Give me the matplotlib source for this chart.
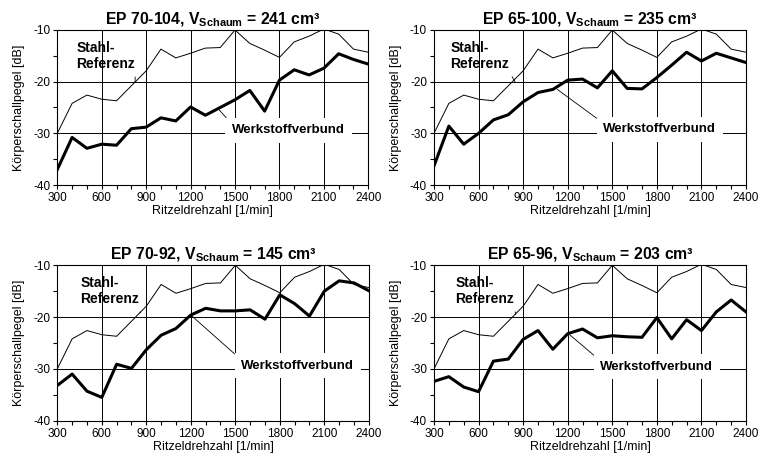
import matplotlib
matplotlib.use('Agg')
import matplotlib.pyplot as plt
from matplotlib.ticker import MultipleLocator

plt.rcParams['font.family'] = ['Liberation Sans', 'DejaVu Sans']
plt.rcParams['mathtext.fontset'] = 'custom'
plt.rcParams['mathtext.rm'] = 'Liberation Sans'
plt.rcParams['mathtext.bf'] = 'Liberation Sans:bold'
plt.rcParams['mathtext.it'] = 'Liberation Sans:italic'
plt.rcParams['axes.unicode_minus'] = False

# Drehzahl [1/min]
drehzahl = list(range(300, 2401, 100))

# Stahl-Referenz (gleich in allen Diagrammen)
stahl = [-30.0, -24.2, -22.6, -23.4, -23.7, -20.8, -17.9, -13.7, -15.4, -14.5, -13.5,
         -13.4, -10.0, -12.6, -13.9, -15.3, -12.3, -11.2, -9.8, -10.8, -13.7, -14.3]

# Werkstoffverbund je Variante
wv_70_104 = [-37.0, -30.8, -32.9, -32.1, -32.3, -29.1, -28.8, -27.0, -27.6, -24.9, -26.5,
             -25.0, -23.5, -21.7, -25.7, -19.7, -17.7, -18.7, -17.4, -14.6, -15.7, -16.6]
wv_65_100 = [-36.3, -28.6, -32.1, -30.0, -27.4, -26.4, -23.9, -22.1, -21.5, -19.7, -19.5,
             -21.2, -17.9, -21.3, -21.4, -19.2, -16.8, -14.3, -16.0, -14.5, -15.4, -16.3]
wv_70_92 = [-33.2, -31.0, -34.3, -35.5, -29.1, -29.9, -26.3, -23.5, -22.2, -19.6, -18.3,
            -18.8, -18.8, -18.6, -20.4, -15.7, -17.4, -19.8, -15.0, -13.0, -13.4, -14.9]
wv_65_96 = [-32.4, -31.5, -33.5, -34.4, -28.5, -28.1, -24.3, -22.6, -26.2, -23.2, -22.3,
            -24.0, -23.6, -23.8, -23.9, -20.1, -24.2, -20.5, -22.6, -19.0, -16.7, -19.0]

titel = ['EP 70-104, V$_{\\mathbf{Schaum}}$ = 241 cm³',
         'EP 65-100, V$_{\\mathbf{Schaum}}$ = 235 cm³',
         'EP 70-92, V$_{\\mathbf{Schaum}}$ = 145 cm³',
         'EP 65-96, V$_{\\mathbf{Schaum}}$ = 203 cm³']
werte = [wv_70_104, wv_65_100, wv_70_92, wv_65_96]

# Beschriftungen: (Textposition, Zielpunkt) in Datenkoordinaten
stahl_pos = [((430, -15.1), (825, -20.1)), ((410, -15.1), (845, -20.0)),
             ((455, -15.0), (860, -19.2)), ((445, -15.0), (850, -19.5))]
wv_pos = [((1480, -29.4), (1385, -25.2)), ((1440, -29.2), (1130, -21.5)),
          ((1540, -29.4), (1200, -19.6)), ((1420, -29.6), (1205, -23.2))]

W, H = 765, 461
rects = [(57.3, 30, 311, 155), (434, 30, 312, 155),
         (57.3, 265.3, 311.5, 155.4), (434, 265.3, 312, 155.4)]

fig = plt.figure(figsize=(W / 100, H / 100), dpi=100)

for i in range(4):
    l, t, w, h = rects[i]
    ax = fig.add_axes([l / W, 1 - (t + h) / H, w / W, h / H])
    ax.set_xlim(300, 2400)
    ax.set_ylim(-40, -10)
    ax.xaxis.set_major_locator(MultipleLocator(300))
    ax.xaxis.set_minor_locator(MultipleLocator(100))
    ax.yaxis.set_major_locator(MultipleLocator(10))
    ax.yaxis.set_minor_locator(MultipleLocator(5))
    ax.tick_params(which='both', direction='out', length=3, width=0.8,
                   labelsize=8.5, pad=2)
    ax.grid(True, which='major', color='black', linewidth=0.7)
    for s in ax.spines.values():
        s.set_linewidth(0.8)

    ax.plot(drehzahl, stahl, color='black', linewidth=0.7, zorder=3)
    ax.plot(drehzahl, werte[i], color='black', linewidth=2.2, zorder=3)

    ax.set_title(titel[i], fontsize=11.3, fontweight='bold', pad=4)
    ax.set_xlabel('Ritzeldrehzahl [1/min]', fontsize=9, labelpad=1)
    ax.set_ylabel('Körperschallpegel [dB]', fontsize=9, labelpad=6)

    (tx, ty), (px, py) = stahl_pos[i]
    ax.annotate('Stahl-\nReferenz', xy=(px, py), xytext=(tx, ty),
                ha='left', va='center', fontsize=10, fontweight='bold',
                linespacing=1.2, zorder=5,
                arrowprops=dict(arrowstyle='-', color='black', linewidth=0.6,
                                shrinkA=2, shrinkB=0, relpos=(1.0, 0.0)))

    (tx, ty), (px, py) = wv_pos[i]
    ax.annotate('Werkstoffverbund', xy=(px, py), xytext=(tx, ty),
                ha='left', va='center', fontsize=9.5, fontweight='bold', zorder=5,
                bbox=dict(boxstyle='square,pad=0.5', fc='white', ec='none'),
                arrowprops=dict(arrowstyle='-', color='black', linewidth=0.6,
                                shrinkA=0, shrinkB=0, relpos=(0.0, 1.0)))

fig.savefig('out.png', dpi=100)
